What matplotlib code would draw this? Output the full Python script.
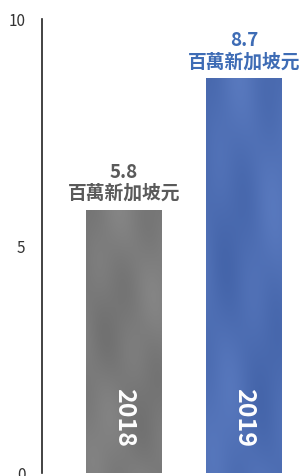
import matplotlib
matplotlib.use('Agg')
import matplotlib.pyplot as plt
import numpy as np

years = ['2018', '2019']
values = [5.8, 8.7]
unit = '百萬新加坡元'
bar_colors = ['#7a7a7a', '#4a6db8']
text_colors = ['#5a5a5a', '#3e6cb5']
yticks = [0, 5, 10]

plt.rcParams['font.family'] = ['Noto Sans CJK TC', 'DejaVu Sans']

fig = plt.figure(figsize=(3.02, 4.77), dpi=100)
ax = fig.add_axes([42/302, 3/477, 260/302, 454/477])

x = np.arange(len(years))
bars = ax.bar(x, values, width=0.633, color=bar_colors, zorder=2)

# soft cloudy texture over each bar
yy, xx = np.mgrid[0:1:200j, 0:1:60j]
tex = (np.sin(xx*4 + yy*6) + np.sin(xx*7 - yy*9 + 1.3)
       + 0.5*np.sin(xx*11 + yy*15 + 0.7)) / 2.5
for b in bars:
    x0, w, h = b.get_x(), b.get_width(), b.get_height()
    im = ax.imshow(tex, extent=[x0, x0+w, 0, h], cmap='gray', alpha=0.08,
                   aspect='auto', origin='lower', zorder=3, vmin=-1, vmax=1,
                   interpolation='bicubic')
    im.set_clip_path(b)

for i, (v, yr) in enumerate(zip(values, years)):
    ax.text(x[i], v + 0.17, f'{v}\n{unit}', ha='center', va='bottom',
            fontsize=13.5, fontweight='bold', color=text_colors[i],
            linespacing=1.15)
    ax.text(x[i], 0.6, yr, ha='center', va='bottom', rotation=-90,
            fontsize=18, fontweight='bold', color='white', zorder=4)

ax.set_xlim(-0.683, 1.483)
ax.set_ylim(0, 10)
ax.set_yticks(yticks)
ax.set_yticklabels([str(t) for t in yticks], fontsize=11, color='#333333')
ax.tick_params(axis='y', length=0, pad=12)
ax.set_xticks([])
for s in ['top', 'right', 'bottom']:
    ax.spines[s].set_visible(False)
ax.spines['left'].set_color('#222222')
ax.spines['left'].set_linewidth(1.2)

fig.savefig('out.png', dpi=100)
